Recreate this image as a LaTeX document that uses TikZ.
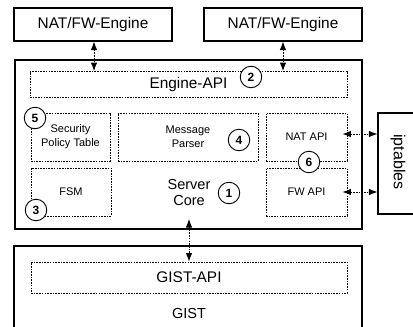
\documentclass[tikz,border=0pt]{standalone}
\usepackage{fontspec}
\setmainfont{Liberation Sans}
\usetikzlibrary{arrows.meta}
\begin{document}
\begin{tikzpicture}[x=1pt,y=-1pt,
  solidbox/.style={draw, line width=1.1pt, inner sep=0pt, fill=white},
  dotbox/.style={draw, line width=0.9pt, dash pattern=on 1.6pt off 1.1pt, inner sep=0pt},
  dotarrow/.style={line width=0.9pt, dash pattern=on 1.6pt off 1.1pt,
    {Latex[length=8.5pt,width=6.5pt]}-{Latex[length=8.5pt,width=6.5pt]}},
  num/.style={circle, draw, line width=0.9pt, fill=white, minimum size=21.5pt,
    inner sep=0pt, font=\bfseries\fontsize{12}{12}\selectfont},
  big/.style={font=\fontsize{15.4}{16}\selectfont},
  small/.style={font=\fontsize{11}{14}\selectfont, align=center}]
\useasboundingbox (0,0) rectangle (413,327);
\clip (0,0) rectangle (413,327);

% Engines
\node[solidbox, minimum width=158pt, minimum height=33pt, big] (eng1) at (93,24.5) {NAT/FW-Engine};
\node[solidbox, minimum width=158pt, minimum height=33pt, big] (eng2) at (283,24.5) {NAT/FW-Engine};

% Server core frame
\node[solidbox, minimum width=347pt, minimum height=169pt] (core) at (188.5,144.5) {};
\node[dotbox, minimum width=317pt, minimum height=26pt, big] (engapi) at (188.5,84.5) {Engine-API};
\node[dotbox, minimum width=79pt, minimum height=48pt, small] (spt) at (70.5,137) {Security\\Policy Table};
\node[dotbox, minimum width=140pt, minimum height=48pt, small] (mp) at (188,137) {Message\\Parser};
\node[dotbox, minimum width=81pt, minimum height=48pt, small] (nat) at (306.5,137) {NAT API};
\node[dotbox, minimum width=80pt, minimum height=48pt, small] (fsm) at (71,192) {FSM};
\node[dotbox, minimum width=81pt, minimum height=48pt, small] (fw) at (306.5,192) {FW API};
\node[align=center, font=\fontsize{14.5}{16}\selectfont] (sc) at (189,193) {Server\\Core};
\coordinate (scout) at (189,219);

% iptables
\node[solidbox, minimum width=60pt, minimum height=101pt] (ipt) at (408,163.5) {};
\node[rotate=-90, font=\fontsize{16}{16}\selectfont] (ipttxt) at (398,162) {iptables};

% GIST
\node[solidbox, minimum width=348pt, minimum height=100pt] (gist) at (188,296) {};
\node[dotbox, minimum width=316pt, minimum height=31pt, big] (gistapi) at (189,277.5) {GIST-API};
\node[font=\fontsize{14.5}{14.5}\selectfont] (gisttxt) at (189,314) {GIST};

% Connectors
\draw[dotarrow] (eng1.south -| 94,0) -- (engapi.north -| 94,0);
\draw[dotarrow] (eng2.south -| 283,0) -- (engapi.north -| 283,0);
\draw[dotarrow] (nat.east |- 0,134) ++(-5,0) coordinate (natend) -- (ipt.west |- 0,134);
\draw[dotarrow] (fw.east |- 0,192) ++(-5,0) coordinate (fwend) -- (ipt.west |- 0,192);
\draw[dotarrow] (scout) -- (gistapi.north -| scout);

% Step numbers
\node[num] (n1) at (229,193) {1};
\node[num] (n2) at (251,77) {2};
\node[num] (n3) at (36,210) {3};
\node[num] (n4) at (239,140) {4};
\node[num] (n5) at (35,118) {5};
\node[num] (n6) at (309,162) {6};
\end{tikzpicture}
\end{document}
